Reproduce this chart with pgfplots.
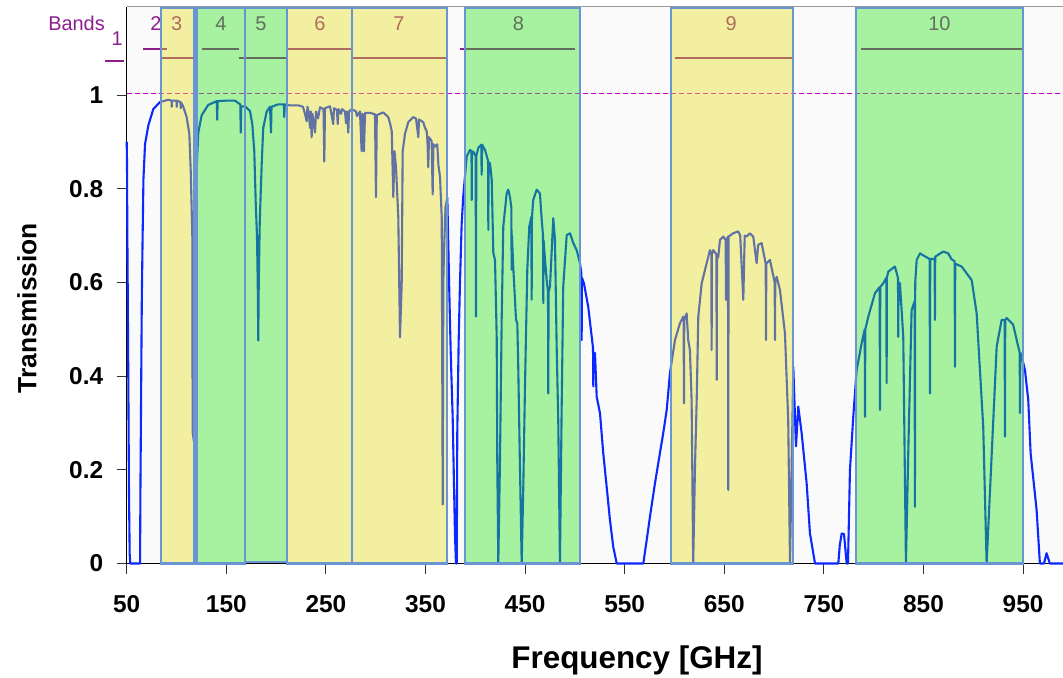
\documentclass[border=0pt]{standalone}
\usepackage{pgfplots}
\usepackage{pgfplotstable}
\pgfplotsset{compat=1.18}
\usepackage{fontspec}
\setmainfont{Liberation Sans}
\definecolor{curveblue}{RGB}{10,40,255}
\definecolor{boxyellow}{RGB}{230,225,25}
\definecolor{boxgreen}{RGB}{40,230,25}
\definecolor{boxedge}{RGB}{105,150,210}
\definecolor{bandpurple}{RGB}{140,30,140}
\definecolor{dashmag}{RGB}{205,0,205}
\definecolor{plotbg}{RGB}{250,250,250}

\pgfplotstableread{
f T
50.0 0.900
50.3 0.860
50.6 0.720
51.0 0.600
51.6 0.400
52.3 0.150
53.0 0.020
53.6 0.000
63.4 0.000
63.8 0.160
64.6 0.400
65.2 0.570
66.0 0.700
66.8 0.820
68.4 0.895
71.7 0.935
76.7 0.970
83.4 0.985
91.8 0.990
95.0 0.988
95.2 0.975
95.5 0.988
100.0 0.988
100.2 0.975
100.5 0.988
104.0 0.985
104.2 0.972
104.5 0.984
106.5 0.977
110.2 0.953
112.9 0.917
114.3 0.838
115.9 0.697
116.2 0.281
117.5 0.260
118.8 0.300
119.3 0.450
119.7 0.700
120.2 0.840
121.9 0.920
125.3 0.957
131.9 0.979
140.4 0.987
140.9 0.947
141.3 0.987
148.7 0.988
158.7 0.988
164.1 0.980
164.5 0.920
165.0 0.976
168.8 0.976
173.8 0.966
176.1 0.938
178.1 0.880
179.5 0.773
180.8 0.700
181.6 0.594
182.1 0.476
182.6 0.600
183.6 0.730
185.5 0.850
187.1 0.930
190.6 0.965
193.9 0.975
194.9 0.920
195.4 0.975
201.9 0.980
207.9 0.980
208.2 0.953
208.7 0.980
214.0 0.978
222.3 0.978
227.0 0.975
229.0 0.960
230.7 0.944
231.5 0.975
233.0 0.960
234.0 0.930
234.8 0.965
235.7 0.910
236.5 0.960
239.1 0.920
240.1 0.965
242.1 0.950
244.1 0.974
247.6 0.970
248.4 0.858
249.1 0.972
254.1 0.976
257.4 0.938
258.1 0.972
261.1 0.968
261.9 0.938
262.6 0.970
265.2 0.960
266.2 0.970
269.2 0.965
270.2 0.940
271.2 0.965
272.5 0.920
273.2 0.965
275.9 0.970
280.2 0.965
281.2 0.955
284.2 0.965
285.9 0.880
286.7 0.960
288.2 0.880
289.3 0.962
294.3 0.962
299.3 0.959
300.3 0.782
301.1 0.957
307.6 0.963
312.6 0.953
314.4 0.940
316.1 0.923
317.7 0.782
318.9 0.880
320.4 0.846
321.4 0.800
322.7 0.739
324.4 0.483
326.1 0.596
327.1 0.880
329.4 0.917
332.7 0.942
337.7 0.953
340.5 0.950
342.8 0.910
343.5 0.948
347.8 0.942
349.5 0.930
351.2 0.923
352.0 0.900
352.8 0.846
353.5 0.910
356.2 0.902
357.2 0.788
358.0 0.895
359.5 0.890
361.8 0.895
363.0 0.850
364.6 0.825
366.3 0.739
367.3 0.126
367.9 0.600
368.6 0.667
370.1 0.760
371.9 0.782
373.9 0.581
375.3 0.453
377.3 0.312
379.6 0.062
380.6 0.000
381.4 0.000
381.9 0.276
383.3 0.474
384.6 0.596
386.3 0.724
387.9 0.783
391.4 0.869
394.7 0.883
396.2 0.880
396.4 0.776
396.7 0.880
398.0 0.879
400.4 0.870
400.7 0.527
401.0 0.870
403.0 0.887
406.0 0.894
406.4 0.830
406.8 0.894
409.7 0.883
412.8 0.860
413.1 0.712
413.4 0.855
414.8 0.855
416.5 0.819
418.1 0.663
419.8 0.648
421.5 0.484
422.1 0.214
423.1 0.000
424.8 0.221
426.5 0.520
428.1 0.719
431.5 0.790
433.1 0.798
434.8 0.783
436.2 0.760
436.5 0.627
436.8 0.700
438.1 0.634
440.9 0.520
442.2 0.513
443.2 0.413
444.9 0.200
446.6 0.000
448.2 0.164
449.9 0.378
452.2 0.627
454.2 0.719
456.3 0.740
456.6 0.563
456.9 0.740
458.2 0.776
461.6 0.798
464.9 0.790
466.7 0.734
468.0 0.700
468.3 0.556
468.6 0.690
470.0 0.648
471.7 0.605
473.0 0.580
473.3 0.363
473.6 0.580
475.0 0.591
478.3 0.737
480.0 0.691
481.7 0.463
483.3 0.306
485.0 0.000
486.7 0.328
488.3 0.591
491.8 0.701
495.1 0.705
498.4 0.684
501.8 0.669
505.1 0.641
506.5 0.620
506.8 0.477
507.1 0.610
509.1 0.598
513.4 0.548
516.9 0.484
518.2 0.460
518.5 0.378
518.8 0.450
520.2 0.449
521.9 0.356
525.2 0.321
528.5 0.235
531.9 0.164
535.2 0.093
538.5 0.036
542.0 0.000
568.7 0.000
572.1 0.050
575.4 0.100
580.4 0.171
585.4 0.236
588.7 0.278
592.2 0.328
595.5 0.407
600.5 0.477
605.5 0.513
608.8 0.527
609.2 0.520
609.5 0.342
609.8 0.520
612.2 0.534
613.8 0.477
615.5 0.456
617.2 0.349
618.8 0.000
620.6 0.207
622.3 0.349
623.9 0.527
627.3 0.598
632.3 0.641
635.6 0.669
637.0 0.660
637.3 0.456
637.6 0.660
638.9 0.669
642.1 0.660
642.4 0.392
642.7 0.650
644.0 0.655
645.7 0.691
649.0 0.698
651.4 0.690
651.7 0.563
652.0 0.690
653.7 0.698
654.0 0.157
654.3 0.698
659.0 0.705
664.0 0.709
666.0 0.700
669.1 0.563
670.5 0.700
672.5 0.698
675.8 0.705
679.1 0.698
682.5 0.641
684.0 0.680
687.5 0.684
691.6 0.640
691.9 0.477
692.2 0.640
695.9 0.648
700.6 0.600
700.9 0.477
701.2 0.600
702.6 0.612
705.9 0.584
710.9 0.492
714.2 0.306
716.0 0.000
719.3 0.420
722.0 0.250
724.3 0.335
727.7 0.278
732.7 0.171
736.0 0.065
741.1 0.000
764.5 0.000
766.0 0.040
767.9 0.064
770.2 0.063
772.9 0.000
774.2 0.000
776.2 0.200
779.5 0.313
782.9 0.413
787.9 0.470
791.0 0.500
791.3 0.313
791.6 0.500
794.6 0.527
801.3 0.577
806.0 0.590
806.3 0.328
806.6 0.590
809.6 0.598
812.7 0.610
813.0 0.385
813.3 0.610
814.6 0.623
821.3 0.634
824.4 0.610
824.7 0.484
825.0 0.600
826.4 0.598
829.7 0.484
832.4 0.000
834.7 0.235
838.1 0.541
841.1 0.560
841.4 0.121
841.7 0.600
843.2 0.648
846.5 0.662
852.0 0.655
856.2 0.650
856.5 0.363
856.8 0.650
861.2 0.650
861.5 0.520
861.8 0.655
869.9 0.666
874.9 0.662
878.0 0.650
881.3 0.645
881.6 0.420
881.9 0.640
888.3 0.634
898.4 0.605
903.4 0.534
906.7 0.413
910.0 0.292
913.4 0.000
920.1 0.306
923.5 0.463
928.5 0.520
931.5 0.520
931.8 0.271
932.1 0.520
933.5 0.524
940.0 0.510
943.6 0.477
946.6 0.450
946.9 0.321
947.2 0.450
948.6 0.442
951.9 0.413
955.2 0.349
957.6 0.235
963.6 0.114
966.9 0.000
971.0 0.000
973.6 0.022
976.9 0.000
990.0 0.000
}\curvedata

\begin{document}
\begin{tikzpicture}
\begin{axis}[
  scale only axis,
  width=936.3bp, height=556.5bp,
  xmin=50, xmax=990.1,
  ymin=0, ymax=1.188,
  clip=false,
  axis x line=bottom, axis y line=left,
  axis line style={-, black, line width=1.2bp},
  axis background/.style={fill=plotbg},
  xtick={50,150,250,350,450,550,650,750,850,950},
  ytick={0,0.2,0.4,0.6,0.8,1},
  tick align=outside,
  major tick length=10bp,
  tick style={black!80, line width=1bp},
  /pgf/number format/assume math mode=true,
  tick label style={font=\fontsize{24.5}{24.5}\selectfont\bfseries},
  yticklabel style={xshift=-10bp},
  xticklabel style={yshift=-18bp},
]
% dashed reference line
\addplot[dashmag, line width=1.4bp, dash pattern=on 5bp off 3bp] coordinates {(50,1.0035) (990.1,1.0035)};
% top frame line
\addplot[black!40, line width=1bp] coordinates {(50,1.188) (990.1,1.188)};
% band lines
\addplot[bandpurple, line width=2bp] coordinates {(28.2,1.073) (47.3,1.073)};
\addplot[bandpurple, line width=2bp] coordinates {(66.7,1.099) (90.2,1.099)};
\addplot[bandpurple, line width=2bp] coordinates {(83.4,1.079) (116.3,1.079)};
\addplot[bandpurple, line width=2bp] coordinates {(125.3,1.099) (163.1,1.099)};
\addplot[bandpurple, line width=2bp] coordinates {(163.1,1.079) (209.9,1.079)};
\addplot[bandpurple, line width=2bp] coordinates {(211.2,1.099) (274.9,1.099)};
\addplot[bandpurple, line width=2bp] coordinates {(274.9,1.079) (372.9,1.079)};
\addplot[bandpurple, line width=2bp] coordinates {(384.5,1.099) (500.0,1.099)};
\addplot[bandpurple, line width=2bp] coordinates {(600.7,1.079) (719.5,1.079)};
\addplot[bandpurple, line width=2bp] coordinates {(787.3,1.099) (948.9,1.099)};
% band labels
\begin{scope}[every node/.style={text=bandpurple, font=\fontsize{20}{20}\selectfont, inner sep=0pt}]
\node[anchor=east] at (axis cs:28.2,1.153) {Bands};
\node at (axis cs:40.4,1.121) {1};
\node at (axis cs:79.4,1.153) {2};
\node at (axis cs:100.2,1.153) {3};
\node at (axis cs:144.7,1.153) {4};
\node at (axis cs:184.8,1.153) {5};
\node at (axis cs:244.1,1.153) {6};
\node at (axis cs:323.4,1.153) {7};
\node at (axis cs:443.2,1.153) {8};
\node at (axis cs:656.9,1.153) {9};
\node at (axis cs:866.0,1.153) {10};
\end{scope}
% transmission curve
\addplot[curveblue, line width=2.1bp, line join=round] table[x=f, y=T] {\curvedata};
% band boxes (translucent)
\addplot[draw=boxedge, line width=2.2bp, fill=boxyellow, fill opacity=0.4] coordinates {(84.4,0) (84.4,1.186) (118.1,1.186) (118.1,0)} -- cycle;
\addplot[draw=boxedge, line width=2.2bp, fill=boxgreen, fill opacity=0.4] coordinates {(120.9,0) (120.9,1.186) (168.8,1.186) (168.8,0)} -- cycle;
\addplot[draw=boxedge, line width=2.2bp, fill=boxgreen, fill opacity=0.4] coordinates {(168.8,0.003) (168.8,1.186) (210.6,1.186) (210.6,0.003)} -- cycle;
\addplot[draw=boxedge, line width=2.2bp, fill=boxyellow, fill opacity=0.4] coordinates {(210.6,0) (210.6,1.186) (276.5,1.186) (276.5,0)} -- cycle;
\addplot[draw=boxedge, line width=2.2bp, fill=boxyellow, fill opacity=0.4] coordinates {(276.5,0) (276.5,1.186) (371.3,1.186) (371.3,0)} -- cycle;
\addplot[draw=boxedge, line width=2.2bp, fill=boxgreen, fill opacity=0.4] coordinates {(389.7,0) (389.7,1.186) (505.1,1.186) (505.1,0)} -- cycle;
\addplot[draw=boxedge, line width=2.2bp, fill=boxyellow, fill opacity=0.4] coordinates {(596.2,0) (596.2,1.186) (718.7,1.186) (718.7,0)} -- cycle;
\addplot[draw=boxedge, line width=2.2bp, fill=boxgreen, fill opacity=0.4] coordinates {(781.9,0) (781.9,1.186) (949.6,1.186) (949.6,0)} -- cycle;
% axis titles
\node[rotate=90, font=\fontsize{26.5}{26.5}\selectfont\bfseries, inner sep=0pt] at (rel axis cs:-0.1065,0.459) {Transmission};
\node[font=\fontsize{31.5}{31.5}\selectfont\bfseries, inner sep=0pt] at (rel axis cs:0.545,-0.1734) {Frequency [GHz]};
\end{axis}
\pgfresetboundingbox
\path ([shift={(-126.7bp,-114.5bp)}]current axis.south west) rectangle ([shift={(0bp,7bp)}]current axis.north east);
\end{tikzpicture}
\end{document}
